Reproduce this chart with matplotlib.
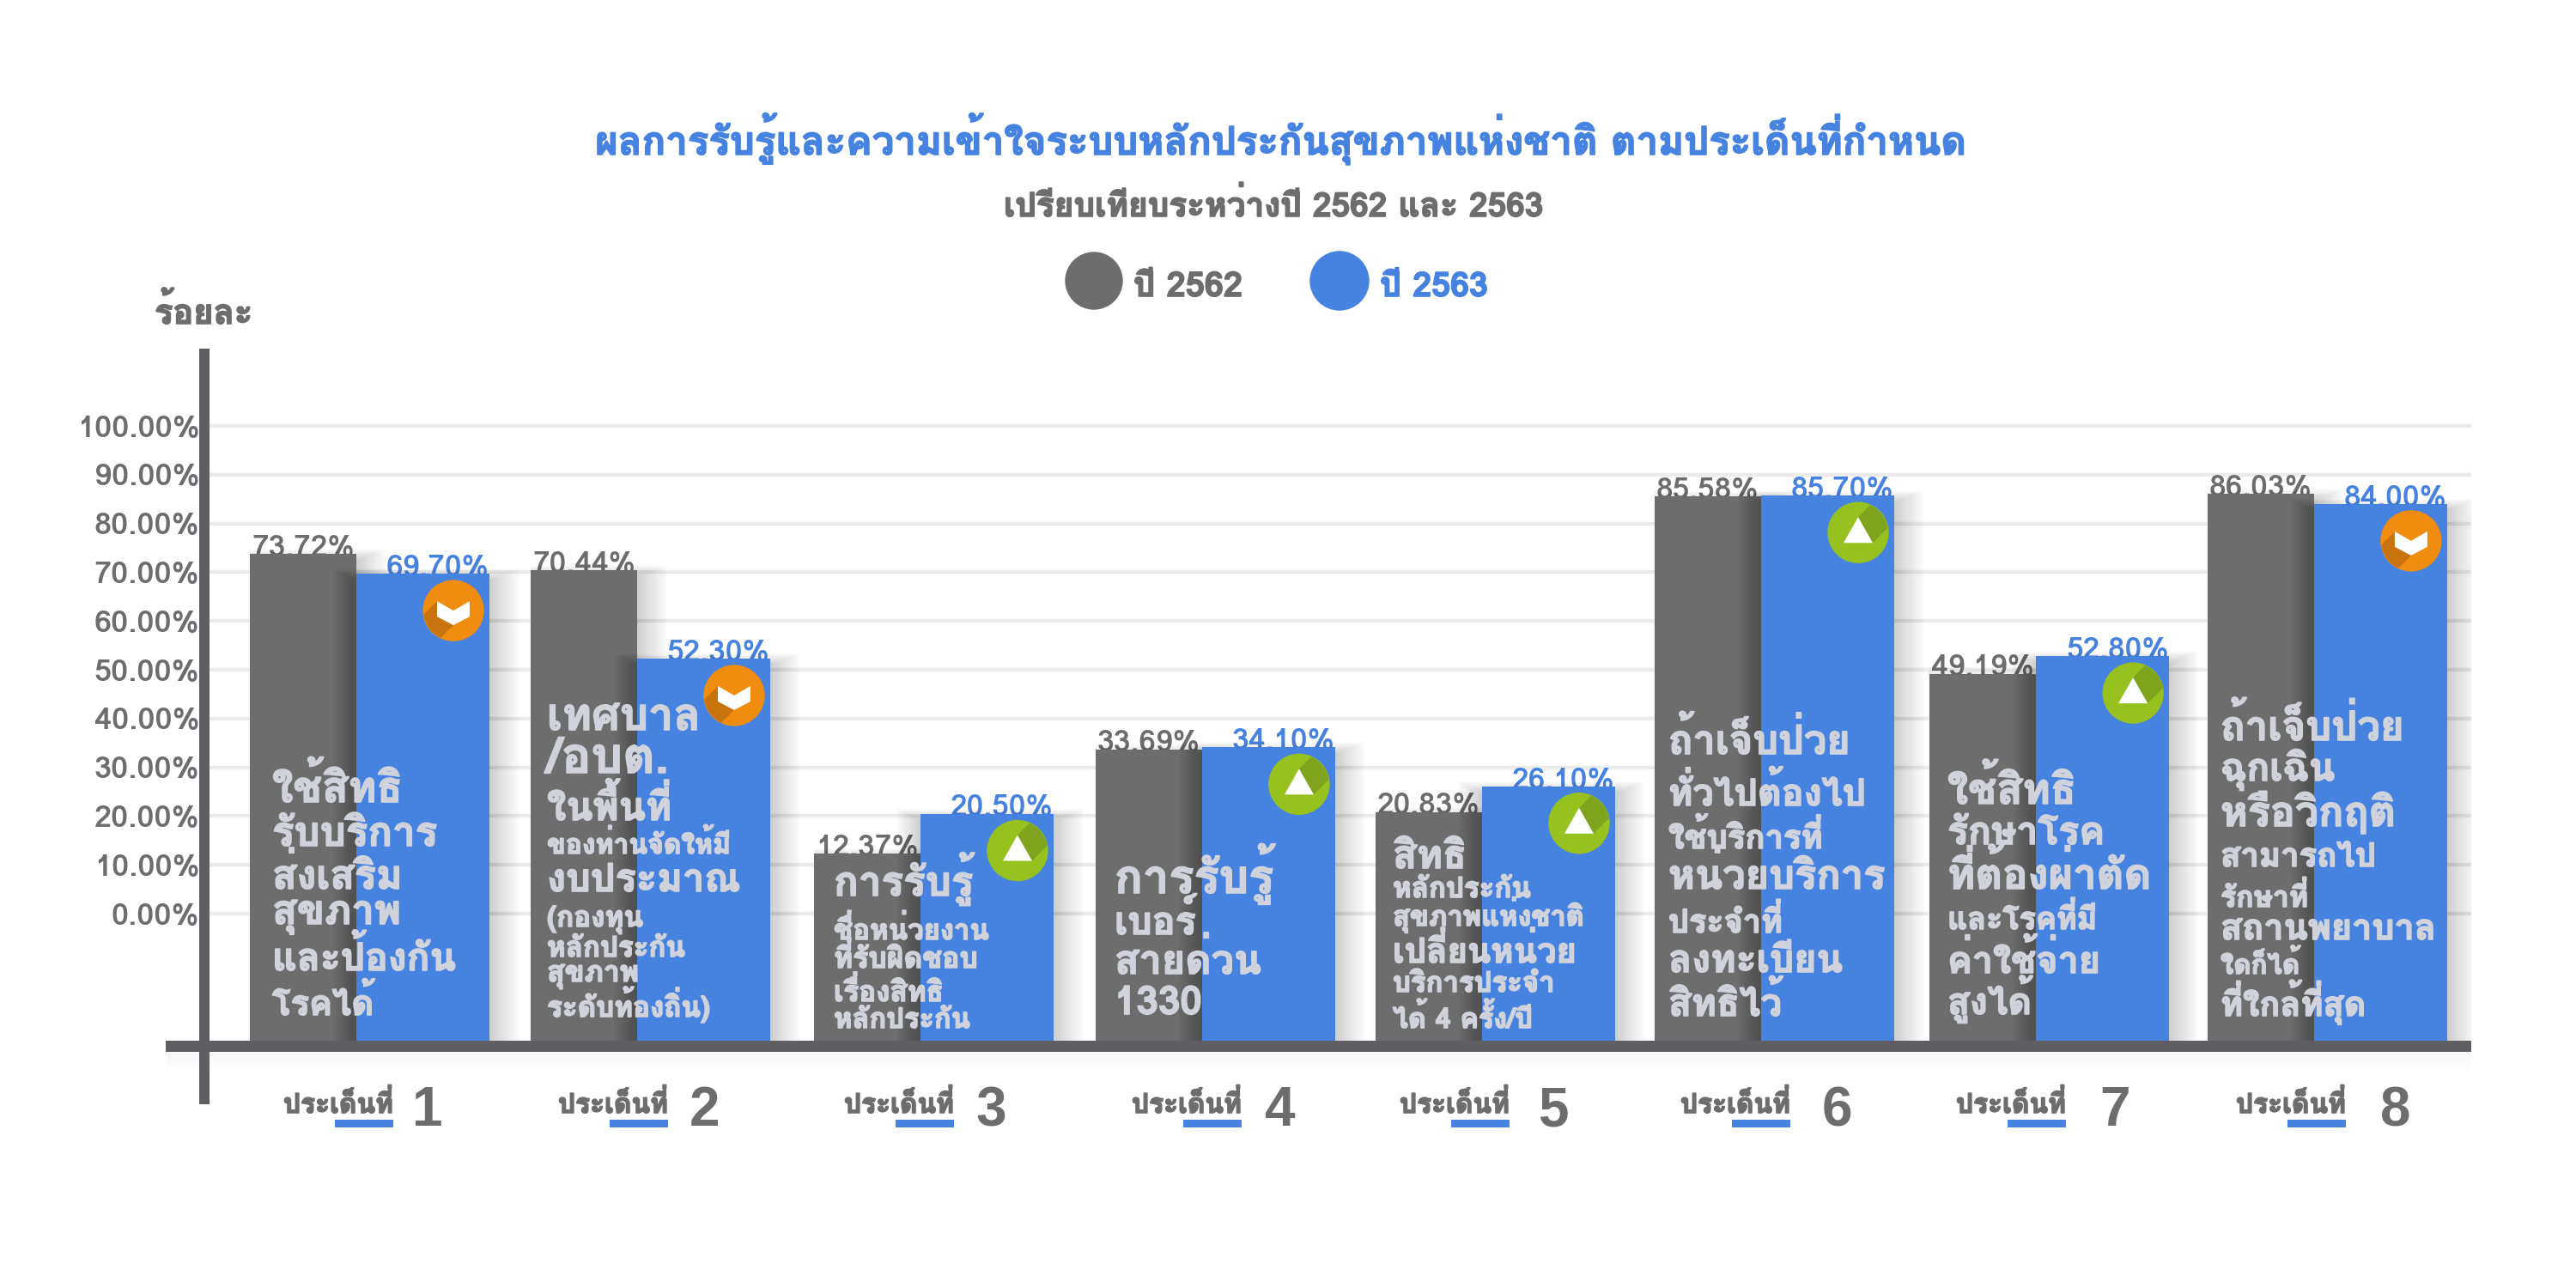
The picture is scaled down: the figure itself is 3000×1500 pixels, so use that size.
import matplotlib
matplotlib.use("Agg")
import matplotlib.pyplot as plt
import matplotlib.patheffects as pe
from matplotlib.patches import Circle, Polygon, Rectangle
from matplotlib.transforms import IdentityTransform
import numpy as np

plt.rcParams['font.family'] = ['Loma', 'DejaVu Sans']
plt.rcParams['font.weight'] = 'bold'

#data
values_2562 = [73.72, 70.44, 12.37, 33.69, 20.83, 85.58, 49.19, 86.03]
values_2563 = [69.70, 52.30, 20.50, 34.10, 26.10, 85.70, 52.80, 84.00]
topics = ["1", "2", "3", "4", "5", "6", "7", "8"]
y_ticks = [0, 10, 20, 30, 40, 50, 60, 70, 80, 90, 100]

notes = [
    ["ใช้สิทธิ", "รับบริการ", "ส่งเสริม", "สุขภาพ", "และป้องกัน", "โรคได้"],
    ["เทศบาล", "/อบต.", "ในพื้นที่", "ของท่านจัดให้มี", "งบประมาณ", "(กองทุน", "หลักประกัน", "สุขภาพ", "ระดับท้องถิ่น)"],
    ["การรับรู้", "ชื่อหน่วยงาน", "ที่รับผิดชอบ", "เรื่องสิทธิ", "หลักประกัน"],
    ["การรับรู้", "เบอร์", "สายด่วน", "1330"],
    ["สิทธิ", "หลักประกัน", "สุขภาพแห่งชาติ", "เปลี่ยนหน่วย", "บริการประจำ", "ได้ 4 ครั้ง/ปี"],
    ["ถ้าเจ็บป่วย", "ทั่วไปต้องไป", "ใช้บริการที่", "หน่วยบริการ", "ประจำที่", "ลงทะเบียน", "สิทธิไว้"],
    ["ใช้สิทธิ", "รักษาโรค", "ที่ต้องผ่าตัด", "และโรคที่มี", "ค่าใช้จ่าย", "สูงได้"],
    ["ถ้าเจ็บป่วย", "ฉุกเฉิน", "หรือวิกฤติ", "สามารถไป", "รักษาที่", "สถานพยาบาล", "ใดก็ได้", "ที่ใกล้ที่สุด"],
]

#layout: the groups are not quite evenly spaced in the original
group_pos = np.array([0, 1.004, 2.017, 3.024, 4.025, 5.023, 6.006, 7])

#layout of the text inside the bars, in pixels of the picture
note_left = [317, 637, 971, 1298, 1622, 1943, 2268, 2586]
note_width = [
    [152, 193, 152, 150, 214, 118],
    [179, 142, 145, 214, 226, 112, 161, 107, 190],
    [163, 181, 168, 128, 159],
    [186, 95, 171, 102],
    [86, 161, 223, 214, 189, 163],
    [212, 230, 180, 253, 133, 203, 132],
    [150, 183, 237, 174, 178, 98],
    [214, 133, 204, 181, 102, 251, 92, 169],
]
note_base = [
    [934, 985, 1035, 1076, 1130, 1182],
    [850, 900, 955, 994, 1038, 1079, 1114, 1143, 1184],
    [1043, 1094, 1127, 1166, 1197],
    [1040, 1088, 1134, 1181],
    [1011, 1045, 1078, 1121, 1155, 1197],
    [878, 938, 988, 1035, 1086, 1132, 1183],
    [936, 983, 1035, 1082, 1133, 1181],
    [862, 909, 962, 1009, 1056, 1094, 1134, 1183],
]
topic_left = [330, 650, 983, 1318, 1630, 1957, 2278, 2604]
number_left = [480, 803, 1136, 1473, 1791, 2122, 2445, 2772]

GRAY = "#6d6d6d"
BLUE = "#4682e0"
AXIS = "#5f5f63"
GRID = "#ebebeb"
NOTE = "#d0d3dc"

fig = plt.figure(figsize=(30, 15), dpi=100)
renderer = fig.canvas.get_renderer()


def put_text(x, y, s, width, color, **kw):#text at pixel position, sized so it has the given width
    t = fig.text(x / 3000, 1 - y / 1500, s, color=color, fontsize=20, va="baseline", **kw)
    t.set_fontsize(20 * width / t.get_window_extent(renderer).width)
    t.set_path_effects([pe.withStroke(linewidth=1.2, foreground=color)])#the original font is heavier
    return t


#axes: 0% at y=1064 and 100% at y=496 in the picture
STEP = 325.7
PX_Y = 5.68
ax = fig.add_axes([238 / 3000, 1 - 1280 / 1500, (2878 - 238) / 3000, (1280 - 412) / 1500])
ax.set_xlim((238 - 291) / STEP, (2878 - 291) / STEP)
ax.set_ylim((1064 - 1280) / PX_Y, (1064 - 412) / PX_Y)
BASE = (1064 - 1212) / PX_Y
BASE_LOW = (1064 - 1225) / PX_Y

for s in ["top", "right", "bottom"]:
    ax.spines[s].set_visible(False)
ax.spines["left"].set_linewidth(12 * 72 / 100)
ax.spines["left"].set_color(AXIS)
ax.spines["left"].set_zorder(6)
ax.set_xticks([])
ax.set_yticks(y_ticks)
ax.set_yticklabels([f"{v:.2f}%" for v in y_ticks], fontsize=26, color=GRAY)
ax.tick_params(axis="y", length=0, pad=4)
ax.yaxis.grid(True, color=GRID, linewidth=3.2, zorder=0)
ax.set_axisbelow(True)

gray_w = 124 / STEP
blue_w = 155 / STEP
x = group_pos


def soft_shadow(left, width, top, z, spill):#layers of thin dark bars as a blurred shadow, mostly to the right
    for k in range(1, 17):
        grow = k * 2.2
        ax.bar(left - spill * k / 16 / STEP, top - BASE + (grow * 0.4 - 8) / PX_Y,
               width=width + (grow + spill * k / 16) / STEP,
               bottom=BASE, align="edge", color="black", alpha=0.011, linewidth=0, zorder=z)


for i in range(len(topics)):
    soft_shadow(x[i], gray_w, values_2562[i], 2, 0)
    soft_shadow(x[i] + gray_w, blue_w, values_2563[i], 2.2, 28)

ax.bar(x, np.array(values_2562) - BASE, width=gray_w, bottom=BASE, align="edge", color=GRAY, zorder=2.1)
ax.bar(x + gray_w, np.array(values_2563) - BASE, width=blue_w, bottom=BASE, align="edge", color=BLUE, zorder=2.3)

#faint shadow under the base line
for k in range(1, 9):
    ax.fill_between([(193 - 291) / STEP, (2878 - 291) / STEP], BASE_LOW - k * 3 / PX_Y, BASE_LOW,
                    color="black", alpha=0.002, linewidth=0, zorder=2.6, clip_on=False)
#the base line
ax.fill_between([(193 - 291) / STEP, (2878 - 291) / STEP], BASE_LOW, BASE,
                color=AXIS, linewidth=0, zorder=5, clip_on=False)

#value labels, they go behind the bars so the bar top cuts them a little
for i in range(len(topics)):
    ax.annotate(f"{values_2562[i]:.2f}%", (x[i] + gray_w / 2, values_2562[i]), xytext=(0, -2),
                textcoords="offset points", ha="center", va="baseline", fontsize=25.5, color=GRAY, zorder=1.5)
    ax.annotate(f"{values_2563[i]:.2f}%", (x[i] + gray_w + blue_w, values_2563[i]), xytext=(0, -2),
                textcoords="offset points", ha="right", va="baseline", fontsize=25.5, color=BLUE, zorder=1.5)


def badge(cx, cy, up):#round icon on the blue bar, in screen pixels
    trans = IdentityTransform()
    base = Circle((cx, cy), 35, color="#96c11f" if up else "#f08c0f", transform=trans, zorder=4, clip_on=False)
    ax.add_patch(base)
    if up:
        dark = [(0, 18), (17, -12), (77, 48), (60, 78)]
        shape = [(0, 18), (-17, -12), (17, -12)]
        dark_col = "#7fa31c"
    else:
        dark = [(-19, 11), (0, -17), (-60, -77), (-79, -49)]
        shape = [(-19, 11), (0, 0), (19, 11), (19, -7), (0, -17), (-19, -7)]
        dark_col = "#c9730f"
    d = Polygon([(cx + a, cy + b) for a, b in dark], color=dark_col, transform=trans, zorder=4.1, linewidth=0)
    ax.add_patch(d)
    d.set_clip_path(Circle((cx, cy), 35, transform=trans))
    ax.add_patch(Polygon([(cx + a, cy + b) for a, b in shape], color="white", transform=trans, zorder=4.2, linewidth=0))


for i in range(len(topics)):
    cx, cy = ax.transData.transform((x[i] + gray_w + blue_w, values_2563[i]))
    badge(cx - 42, cy - 43, values_2563[i] > values_2562[i])

#text inside the bars
for i in range(len(topics)):
    for s, w, b in zip(notes[i], note_width[i], note_base[i]):
        t = put_text(note_left[i], b, s, w, NOTE)
        t.set_zorder(7)

#topic labels under the axis
for i in range(len(topics)):
    put_text(topic_left[i], 1296, "ประเด็นที่", 128, GRAY)
    fig.text(number_left[i] / 3000, 1 - 1311 / 1500, topics[i], fontsize=46, color=GRAY, family=['Liberation Sans', 'DejaVu Sans'])
    fig.add_artist(Rectangle(((topic_left[i] + 60) / 3000, 1 - 1313 / 1500), 68 / 3000, 9 / 1500,
                             color=BLUE, linewidth=0, transform=fig.transFigure))

#titles and legend
put_text(693, 180, "ผลการรับรู้และความเข้าใจระบบหลักประกันสุขภาพแห่งชาติ ตามประเด็นที่กำหนด", 1598, BLUE)
put_text(1169, 252, "เปรียบเทียบระหว่างปี 2562 และ 2563", 629, GRAY)
put_text(180, 377, "ร้อยละ", 114, GRAY)

fig.add_artist(Circle((1274, 1500 - 327), 33, color=GRAY, transform=IdentityTransform()))
fig.add_artist(Circle((1560, 1500 - 327), 34, color=BLUE, transform=IdentityTransform()))
put_text(1320, 345, "ปี 2562", 127, GRAY)
put_text(1607, 345, "ปี 2563", 126, BLUE)

fig.savefig("out.png", dpi=100)
